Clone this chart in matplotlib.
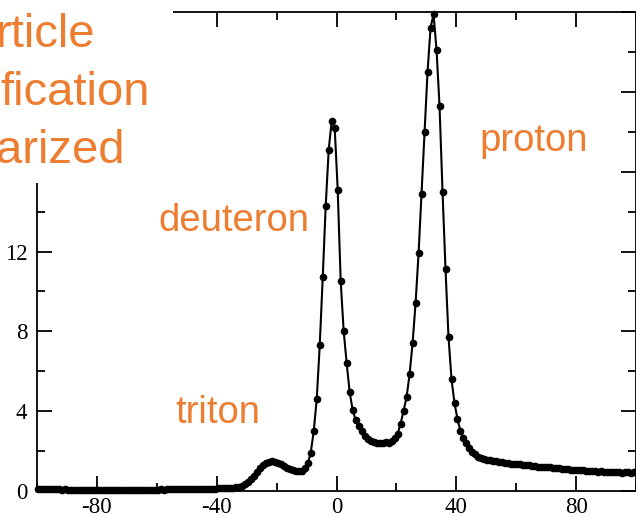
import numpy as np
import matplotlib
matplotlib.use("Agg")
import matplotlib.pyplot as plt
from matplotlib.patches import Rectangle

# bin centres (one per unit) and counts
x_bins = np.arange(-100, 100) + 0.4
counts = [
    0.10, 0.09, 0.10, 0.09, 0.08, 0.09, 0.08, 0.08, 0.07, 0.08,
    0.07, 0.07, 0.06, 0.07, 0.06, 0.06, 0.05, 0.06, 0.05, 0.05,
    0.05, 0.05, 0.04, 0.05, 0.05, 0.04, 0.05, 0.05, 0.05, 0.06,
    0.05, 0.06, 0.06, 0.05, 0.06, 0.06, 0.07, 0.06, 0.07, 0.07,
    0.07, 0.08, 0.07, 0.08, 0.08, 0.08, 0.09, 0.08, 0.09, 0.09,
    0.09, 0.10, 0.10, 0.10, 0.11, 0.11, 0.11, 0.12, 0.12, 0.12,
    0.13, 0.13, 0.14, 0.15, 0.16, 0.17, 0.19, 0.21, 0.26, 0.33,
    0.45, 0.58, 0.76, 0.96, 1.15, 1.30, 1.40, 1.46, 1.48, 1.46,
    1.40, 1.33, 1.25, 1.17, 1.10, 1.05, 1.01, 0.98, 0.99, 1.15,
    1.38, 1.92, 3.00, 4.60, 7.30, 10.7, 14.3, 17.1, 18.55, 18.2,
    15.1, 10.5, 8.00, 6.40, 4.95, 4.05, 3.55, 3.25, 3.00, 2.78,
    2.63, 2.53, 2.46, 2.42, 2.39, 2.40, 2.44, 2.43, 2.50, 2.65,
    2.86, 3.38, 4.02, 4.70, 5.85, 7.40, 9.40, 11.9, 14.9, 18.0,
    21.0, 23.2, 23.9, 22.1, 19.3, 15.0, 11.1, 7.70, 5.60, 4.40,
    3.60, 3.00, 2.68, 2.38, 2.15, 1.97, 1.83, 1.70, 1.63, 1.59,
    1.56, 1.54, 1.51, 1.49, 1.47, 1.45, 1.42, 1.40, 1.36, 1.35,
    1.33, 1.33, 1.31, 1.30, 1.30, 1.27, 1.25, 1.22, 1.22, 1.20,
    1.19, 1.18, 1.17, 1.15, 1.13, 1.10, 1.08, 1.08, 1.07, 1.06,
    1.05, 1.05, 1.04, 1.02, 1.01, 1.00, 0.99, 0.97, 0.98, 0.95,
    0.96, 0.94, 0.93, 0.94, 0.93, 0.92, 0.93, 0.93, 0.92, 0.94,
]

x_ticks = [-80, -40, 0, 40, 80]
y_ticks = [0, 4, 8, 12, 16, 20, 24]
# labels above 12 sit under the title block in the reference
y_labels = ["0", "4", "8", "12", "", "", ""]
title_lines = ["rticle", "fication", "arized"]
peak_labels = [("triton", 175, 423), ("deuteron", 158, 231), ("proton", 479, 151)]

W, H = 636, 517
orange = "#ED7D31"

fig = plt.figure(figsize=(W / 100, H / 100), dpi=100)
ax = fig.add_axes([37 / W, 26 / H, 599 / W, 479 / H])

ax.plot(x_bins, counts, color="black", lw=1.5, marker="o", ms=4.5,
        mfc="black", mec="black", clip_on=False, zorder=3)

ax.set_xlim(-100, 100)
ax.set_ylim(0, 24)
ax.set_xticks(x_ticks)
ax.set_xticks(np.arange(-100, 101, 20), minor=True)
ax.set_yticks(y_ticks)
ax.set_yticks(np.arange(0, 25, 2), minor=True)
ax.set_yticklabels(y_labels)
ax.set_xticklabels([str(v) for v in x_ticks])
ax.tick_params(which="both", direction="in", top=True, right=True, width=1.3)
ax.tick_params(which="major", length=11)
ax.tick_params(which="minor", length=6)
ax.tick_params(axis="x", pad=4)
ax.tick_params(axis="y", pad=7)
for lab in ax.get_xticklabels() + ax.get_yticklabels():
    lab.set_family("Liberation Serif")
    lab.set_fontsize(16.5)
for s in ax.spines.values():
    s.set_linewidth(1.3)

# white block over the top-left corner holding the cut-off title
fig.patches.append(Rectangle((0, 1 - 183 / H), 173 / W, 183 / H,
                             transform=fig.transFigure, facecolor="white",
                             edgecolor="none", zorder=5))
for (txt, px, py) in zip(title_lines, [-4, 0, -4], [47, 105, 163]):
    fig.text(px / W, 1 - py / H, txt, color=orange, fontsize=34,
             family="Liberation Sans", va="baseline", ha="left", zorder=6)

for txt, px, py in peak_labels:
    fig.text(px / W, 1 - py / H, txt, color=orange, fontsize=27.5,
             family="Liberation Sans", va="baseline", ha="left", zorder=6)

fig.savefig("out.png", dpi=100)
